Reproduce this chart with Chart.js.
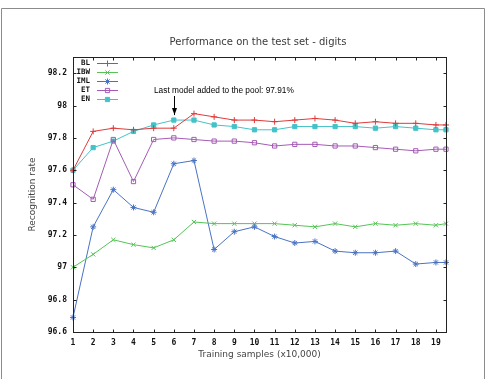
<!DOCTYPE html>
<html>
<head>
<meta charset="utf-8">
<script src="https://cdn.jsdelivr.net/npm/chart.js@4"></script>
<style>
  html, body { margin: 0; padding: 0; background: #fff; }
  canvas { display: block; }
</style>
</head>
<body>
<canvas id="chart" width="489" height="379"></canvas>
<script>
'use strict';

var samples = [1, 2, 3, 4, 5, 6, 7, 8, 9, 10, 11, 12, 13, 14, 15, 16, 17, 18, 19, 19.5];
var bl  = [97.60, 97.84, 97.86, 97.85, 97.86, 97.86, 97.95, 97.93, 97.91, 97.91, 97.90, 97.91, 97.92, 97.91, 97.89, 97.90, 97.89, 97.89, 97.88, 97.88];
var ibw = [97.00, 97.08, 97.17, 97.14, 97.12, 97.17, 97.28, 97.27, 97.27, 97.27, 97.27, 97.26, 97.25, 97.27, 97.25, 97.27, 97.26, 97.27, 97.26, 97.27];
var iml = [96.69, 97.25, 97.48, 97.37, 97.34, 97.64, 97.66, 97.11, 97.22, 97.25, 97.19, 97.15, 97.16, 97.10, 97.09, 97.09, 97.10, 97.02, 97.03, 97.03];
var et  = [97.51, 97.42, 97.79, 97.53, 97.79, 97.80, 97.79, 97.78, 97.78, 97.77, 97.75, 97.76, 97.76, 97.75, 97.75, 97.74, 97.73, 97.72, 97.73, 97.73];
var en  = [97.60, 97.74, 97.78, 97.84, 97.88, 97.91, 97.91, 97.88, 97.87, 97.85, 97.85, 97.87, 97.87, 97.87, 97.87, 97.86, 97.87, 97.86, 97.85, 97.85];

var xTicks = [1, 2, 3, 4, 5, 6, 7, 8, 9, 10, 11, 12, 13, 14, 15, 16, 17, 18, 19];
var yTicks = [96.6, 96.8, 97, 97.2, 97.4, 97.6, 97.8, 98, 98.2];

var annotX = 6;
var annotValue = 97.91;
var annotText = 'Last model added to the pool: 97.91%';

var tickFont = { family: 'DejaVu Sans Mono', size: 8, weight: 'bold' };

function points(values) {
  var out = [];
  for (var i = 0; i < values.length; i++) {
    out.push({ x: samples[i], y: values[i] });
  }
  return out;
}

function series(label, values, color, style, filled) {
  return {
    label: label,
    data: points(values),
    borderColor: color,
    backgroundColor: color,
    borderWidth: 1,
    pointStyle: style,
    pointRadius: 3,
    pointBorderWidth: 1,
    pointBorderColor: color,
    pointBackgroundColor: filled ? color : 'rgba(0,0,0,0)',
    tension: 0,
    clip: false
  };
}

// frame, title, plot border, inward ticks, legend, arrow
var extras = {
  id: 'extras',
  beforeDraw: function(chart) {
    var ctx = chart.ctx;
    ctx.save();
    ctx.strokeStyle = '#8c8c8c';
    ctx.lineWidth = 1;
    ctx.beginPath();
    ctx.moveTo(1.5, 379);
    ctx.lineTo(1.5, 8.5);
    ctx.lineTo(484.5, 8.5);
    ctx.lineTo(484.5, 379);
    ctx.stroke();
    ctx.restore();
  },
  afterDraw: function(chart) {
    var ctx = chart.ctx;
    var a = chart.chartArea;
    var xs = chart.scales.x;
    var ys = chart.scales.y;
    ctx.save();

    ctx.fillStyle = '#3a3a3a';
    ctx.font = '10px "DejaVu Sans"';
    ctx.textAlign = 'center';
    ctx.textBaseline = 'middle';
    ctx.fillText('Performance on the test set - digits', 258, 42);

    ctx.strokeStyle = '#222';
    ctx.lineWidth = 1;
    var l = Math.round(a.left) + 0.5, r = Math.round(a.right) + 0.5;
    var t = Math.round(a.top) + 0.5, b = Math.round(a.bottom) + 0.5;
    ctx.strokeRect(l, t, r - l, b - t);

    ctx.beginPath();
    xTicks.forEach(function(v) {
      var px = Math.round(xs.getPixelForValue(v)) + 0.5;
      ctx.moveTo(px, b); ctx.lineTo(px, b - 3);
      ctx.moveTo(px, t); ctx.lineTo(px, t + 3);
    });
    yTicks.forEach(function(v) {
      var py = Math.round(ys.getPixelForValue(v)) + 0.5;
      ctx.moveTo(l, py); ctx.lineTo(l + 3, py);
      ctx.moveTo(r, py); ctx.lineTo(r - 3, py);
    });
    ctx.stroke();

    // legend
    ctx.font = 'bold 7.5px "DejaVu Sans Mono"';
    ctx.textAlign = 'right';
    chart.data.datasets.forEach(function(ds, i) {
      var y = Math.round(63 + i * 9) + 0.5;
      ctx.fillStyle = '#111';
      ctx.fillText(ds.label, 90, y);
      ctx.strokeStyle = ds.borderColor;
      ctx.beginPath();
      ctx.moveTo(97, y);
      ctx.lineTo(118, y);
      ctx.stroke();
      ctx.fillStyle = ds.pointBackgroundColor;
      ctx.strokeStyle = ds.pointBorderColor;
      Chart.helpers.drawPoint(ctx, { pointStyle: ds.pointStyle, radius: 3, borderWidth: 1 }, 107.5, y);
    });

    // annotation arrow
    var ax = Math.round(xs.getPixelForValue(annotX)) + 0.5;
    var tip = ys.getPixelForValue(annotValue) - 5;
    ctx.strokeStyle = '#000';
    ctx.fillStyle = '#000';
    ctx.beginPath();
    ctx.moveTo(ax, 96);
    ctx.lineTo(ax, tip);
    ctx.stroke();
    ctx.beginPath();
    ctx.moveTo(ax, tip);
    ctx.lineTo(ax - 2.5, tip - 7);
    ctx.lineTo(ax + 2.5, tip - 7);
    ctx.closePath();
    ctx.fill();

    ctx.font = '8.3px "Liberation Sans"';
    ctx.textAlign = 'left';
    ctx.fillText(annotText, 154, 91);
    ctx.restore();
  }
};

var ctx = document.getElementById('chart').getContext('2d');
var myChart = new Chart(ctx, {
  type: 'line',
  data: {
    datasets: [
      series('BL', bl, '#e03a3a', 'cross', false),
      series('IBW', ibw, '#55c455', 'crossRot', false),
      series('IML', iml, '#4a72c4', 'star', false),
      series('ET', et, '#a55bb5', 'rect', false),
      series('EN', en, '#44c2c8', 'rect', true)
    ]
  },
  options: {
    responsive: false,
    animation: false,
    layout: { padding: { top: 57, right: 43, left: 0, bottom: 0 } },
    plugins: {
      legend: { display: false },
      title: { display: false },
      tooltip: { enabled: false }
    },
    scales: {
      x: {
        type: 'linear',
        min: 1,
        max: 19.5,
        afterBuildTicks: function(scale) {
          scale.ticks = xTicks.map(function(v) { return { value: v }; });
        },
        afterFit: function(scale) { scale.height = 47; },
        grid: { display: false, drawTicks: false },
        border: { display: false },
        ticks: {
          font: tickFont,
          color: '#111',
          padding: 6,
          maxRotation: 0,
          autoSkip: false,
          callback: function(v) { return String(v); }
        },
        title: {
          display: true,
          text: 'Training samples (x10,000)',
          color: '#444',
          font: { family: 'DejaVu Sans', size: 9 },
          padding: { top: 0, bottom: 19 }
        }
      },
      y: {
        min: 96.6,
        max: 98.3,
        afterBuildTicks: function(scale) {
          scale.ticks = yTicks.map(function(v) { return { value: v }; });
        },
        afterFit: function(scale) { scale.width = 73; },
        grid: { display: false, drawTicks: false },
        border: { display: false },
        ticks: {
          font: tickFont,
          color: '#111',
          padding: 6,
          autoSkip: false,
          callback: function(v) { return String(Math.round(v * 10) / 10); }
        },
        title: {
          display: true,
          text: 'Recognition rate',
          color: '#444',
          font: { family: 'DejaVu Sans', size: 9 },
          padding: { top: 27, bottom: 0 }
        }
      }
    }
  },
  plugins: [extras]
});
</script>
</body>
</html>
